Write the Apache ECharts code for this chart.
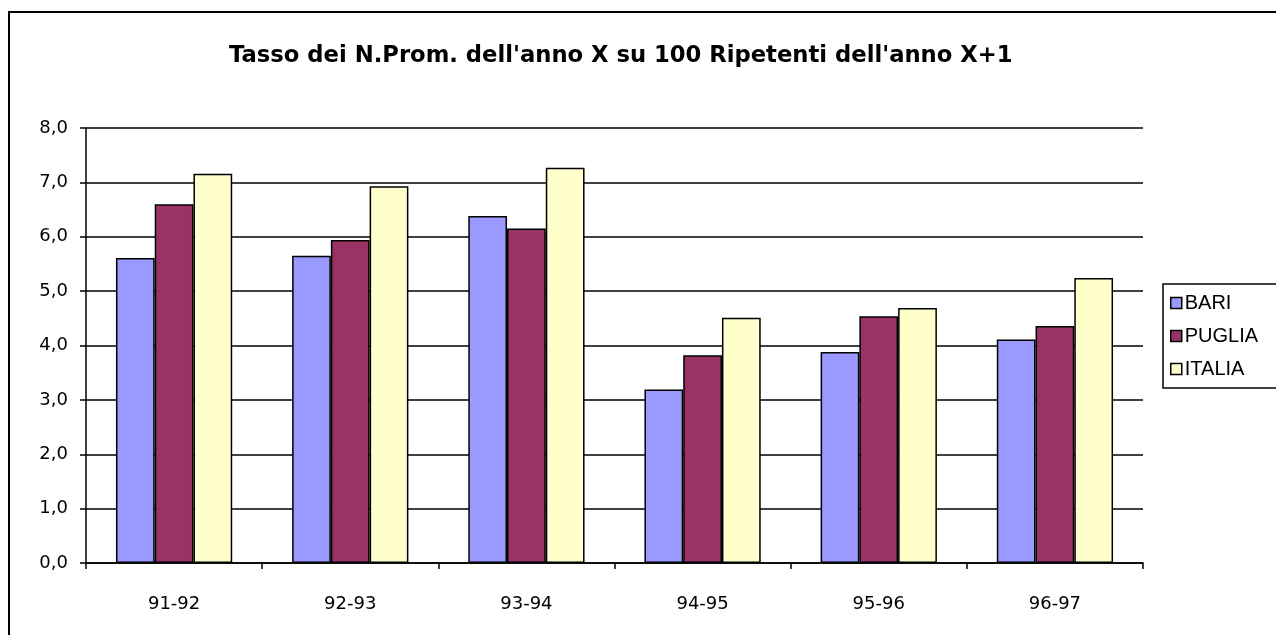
<!DOCTYPE html>
<html><head><meta charset="utf-8">
<script src="https://cdn.jsdelivr.net/npm/echarts@6/dist/echarts.min.js"></script>
<style>html,body{margin:0;padding:0;background:#fff}#c{width:1276px;height:635px}</style>
</head><body><div id="c"></div>
<script>
const categories = ['91-92','92-93','93-94','94-95','95-96','96-97'];
const bari   = [5.61, 5.65, 6.38, 3.19, 3.88, 4.11];
const puglia = [6.60, 5.94, 6.15, 3.82, 4.54, 4.36];
const italia = [7.16, 6.93, 7.27, 4.51, 4.69, 5.24];
const seriesNames = ['BARI','PUGLIA','ITALIA'];
const colors = ['#9999FF','#993366','#FFFFCC'];
const font = '"DejaVu Sans", sans-serif';
const lfont = '"Liberation Sans", Arial, sans-serif';
const chart = echarts.init(document.getElementById('c'));
const mk = (name, data, i) => ({
  name, type:'bar', data, barGap:'0%', barCategoryGap:'34%',
  itemStyle:{color:colors[i], borderColor:'#000', borderWidth:1.5},
  emphasis:{disabled:true}, animation:false
});
chart.setOption({
  animation:false,
  graphic:[{type:'rect', shape:{x:9,y:12,width:1300,height:660}, style:{fill:'none',stroke:'#000',lineWidth:2}, silent:true}],
  title:{text:"Tasso dei N.Prom. dell'anno X su 100 Ripetenti dell'anno X+1", left:229, top:45, textStyle:{fontFamily:font, fontSize:22.7, fontWeight:'bold', color:'#000'}, padding:0},
  grid:{left:86, right:133, top:128, bottom:72},
  legend:{orient:'vertical', left:1163, top:284, data:seriesNames, itemWidth:11, itemHeight:11, itemGap:13,
    borderColor:'#000', borderWidth:1.5, padding:[9,20,9,7], icon:'rect',
    itemStyle:{borderColor:'#000', borderWidth:1.5},
    textStyle:{fontFamily:lfont, fontSize:20, color:'#000', lineHeight:20, padding:[0,0,0,-2]}},
  xAxis:{type:'category', data:categories,
    axisLine:{lineStyle:{color:'#000', width:1.5}},
    axisTick:{show:true, length:6, lineStyle:{color:'#000', width:1.5}},
    axisLabel:{fontFamily:font, fontSize:18, color:'#000', margin:32}},
  yAxis:{type:'value', min:0, max:8, interval:1,
    axisLine:{show:true, lineStyle:{color:'#000', width:1.5}},
    axisTick:{show:true, length:6, lineStyle:{color:'#000', width:1.5}},
    splitLine:{lineStyle:{color:'#000', width:1.5}},
    axisLabel:{fontFamily:font, fontSize:18, color:'#000', margin:18, formatter:v=>v.toFixed(1).replace('.',',')}},
  series:[mk('BARI',bari,0), mk('PUGLIA',puglia,1), mk('ITALIA',italia,2)]
});
</script></body></html>
